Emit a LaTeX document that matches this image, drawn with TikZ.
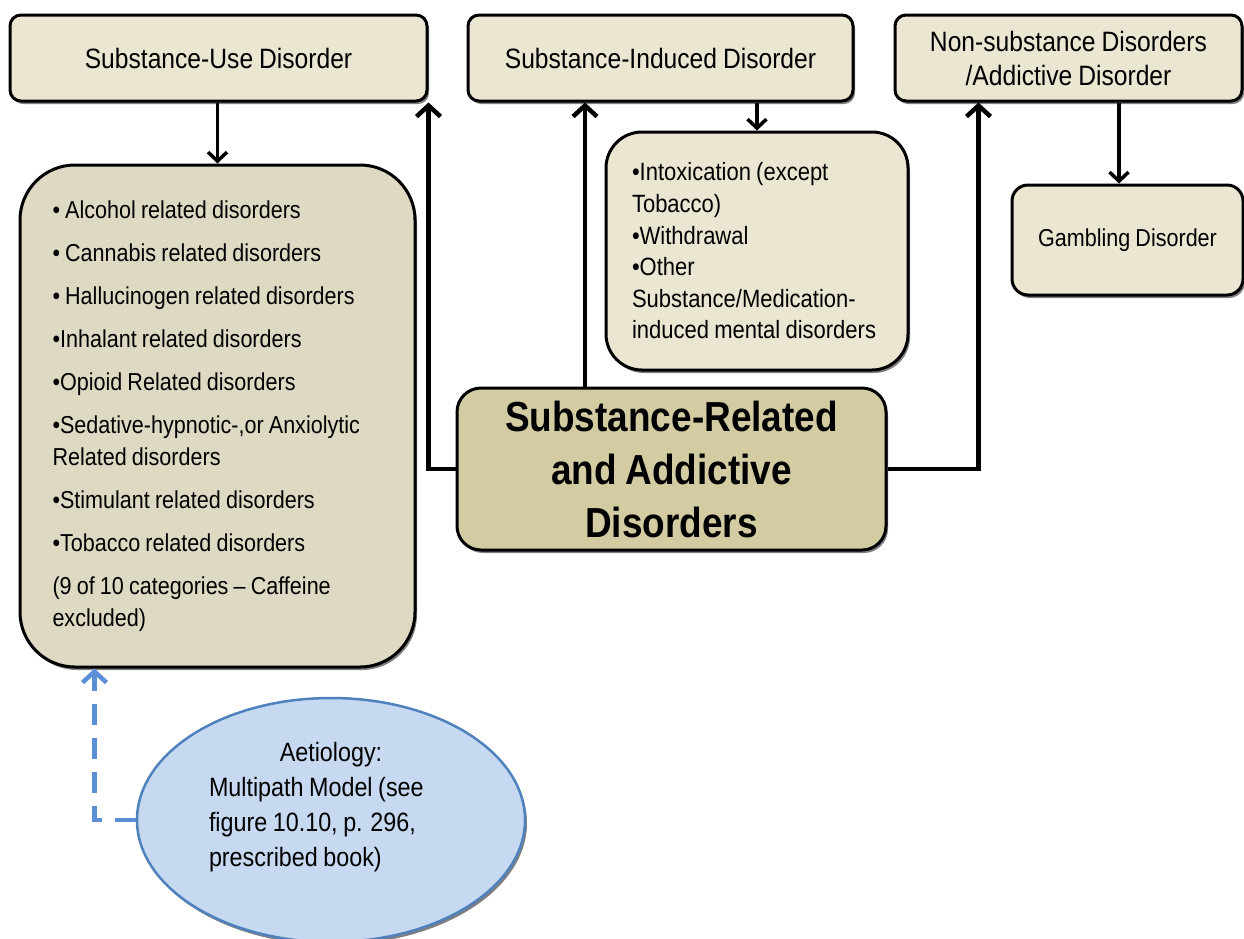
\documentclass[tikz,border=0pt]{standalone}
\usepackage{fontspec}
\setmainfont{Liberation Sans}[FakeStretch=0.88,WordSpace={0.86,0.3,0.2}]
\usetikzlibrary{arrows.meta,shapes.geometric,shadows}
\definecolor{topfill}{HTML}{EAE6D2}
\definecolor{listfill}{HTML}{DDD9C3}
\definecolor{mainfill}{HTML}{D3CCA2}
\definecolor{ellfill}{HTML}{C6D9F1}
\definecolor{elldraw}{HTML}{4F81BD}
\definecolor{dashblue}{HTML}{5B8ED6}
\begin{document}
\begin{tikzpicture}[x=1pt,y=-1pt,
  shad/.style={drop shadow={shadow xshift=2pt,shadow yshift=-3pt,fill=black,opacity=0.5}},
  topbox/.style={draw=black,line width=3pt,rounded corners=11pt,fill=topfill,shad,
    align=center,inner sep=0pt,font=\fontsize{28}{34}\selectfont},
  listbox/.style={draw=black,line width=3pt,fill=listfill,shad,align=flush left,inner ysep=0pt},
  mainbox/.style={draw=black,line width=3pt,rounded corners=24pt,fill=mainfill,shad,
    align=center,inner sep=0pt,font=\fontsize{42}{53}\selectfont\bfseries},
  thinarrow/.style={draw=black,line width=3.5pt,-{Straight Barb[length=9pt,width=19pt]}},
  thickarrow/.style={draw=black,line width=4.5pt,-{Straight Barb[length=11pt,width=24pt]}},
  dasharrow/.style={draw=dashblue,line width=4.5pt,dash pattern=on 21pt off 13pt,
    -{Straight Barb[length=11pt,width=24pt]}}
]
\useasboundingbox (0,0) rectangle (1244,938);

\node[topbox,minimum width=417pt,minimum height=86pt] (box1) at (218.5,58) {Substance-Use Disorder};
\node[topbox,minimum width=385pt,minimum height=86pt] (box2) at (660.5,58) {Substance-Induced Disorder};
\node[topbox,minimum width=347pt,minimum height=86pt] (box3) at (1068.5,58) {Non-substance Disorders\\/Addictive Disorder};

\node[listbox,rounded corners=55pt,minimum width=395pt,minimum height=502pt,
  text width=330pt,inner xsep=32.5pt,font=\fontsize{24.5}{32}\selectfont] (list) at (217.5,416)
  {• Alcohol related disorders\\[11pt]
   • Cannabis related disorders\\[11pt]
   • Hallucinogen related disorders\\[11pt]
   •Inhalant related disorders\\[11pt]
   •Opioid Related disorders\\[11pt]
   •Sedative-hypnotic-,or Anxiolytic\\
   Related disorders\\[11pt]
   •Stimulant related disorders\\[11pt]
   •Tobacco related disorders\\[11pt]
   (9 of 10 categories – Caffeine\\
   excluded)};

\node[listbox,fill=topfill,rounded corners=36pt,minimum width=302pt,minimum height=238pt,
  text width=256pt,inner xsep=23pt,font=\fontsize{25}{31.6}\selectfont] (induced) at (757,251)
  {\hspace*{3pt}•Intoxication (except\\
   \hspace*{3pt}Tobacco)\\
   \hspace*{3pt}•Withdrawal\\
   \hspace*{3pt}•Other\\
   \hspace*{3pt}Substance/Medication-\\
   \hspace*{3pt}induced mental disorders};

\node[topbox,rounded corners=16pt,minimum width=231pt,minimum height=110pt,
  font=\fontsize{24.5}{30}\selectfont] (gamb) at (1127.5,240) {Gambling Disorder};

\node[mainbox,minimum width=429pt,minimum height=162pt] (main) at (671.5,469)
  {Substance-Related\\and Addictive\\Disorders};

\node[ellipse,draw=elldraw,line width=2.5pt,fill=ellfill,shad,minimum width=388pt,minimum height=244pt,
  label={[yshift=13pt,align=left,font=\fontsize{26.5}{35}\selectfont]center:{\makebox[244pt]{Aetiology:}\\Multipath Model (see\\figure 10.10, p. 296,\\prescribed book)}}] (ell) at (331,820) {};

\draw[thinarrow] (list.north |- box1.south) -- (list.north);
\draw[thinarrow] (induced.north |- box2.south) -- (induced.north);
\draw[thinarrow] ([xshift=-8.5pt]gamb.north |- box3.south) -- ([xshift=-8.5pt]gamb.north);

\draw[thickarrow] (main.west) -| (box1.south east);
\draw[thickarrow] ([xshift=-86.5pt]main.north) -- ([xshift=-86.5pt]main.north |- box2.south);
\draw[thickarrow] (main.east) -| ([xshift=85pt]box3.south west);

\draw[dasharrow] (ell.west) -| ([xshift=76pt]list.south west);
\end{tikzpicture}
\end{document}
